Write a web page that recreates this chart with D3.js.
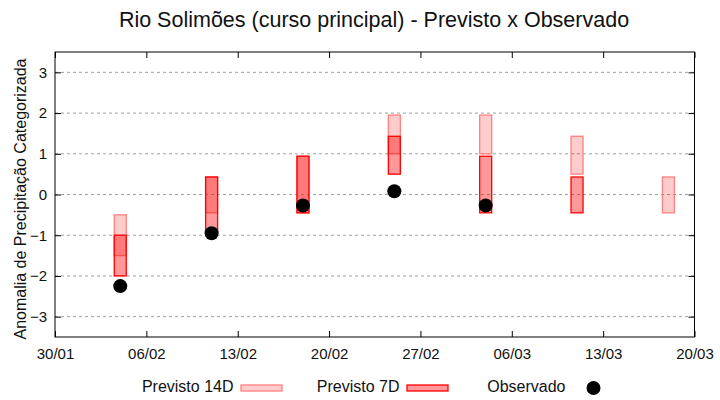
<!DOCTYPE html>
<html>
<head>
<meta charset="utf-8">
<script src="https://cdn.jsdelivr.net/npm/d3@7"></script>
<style>
  body { margin: 0; background: #fff; }
  text { font-family: "Liberation Sans", Arial, sans-serif; fill: #111; }
</style>
</head>
<body>
<div id="chart"></div>
<script>
// weekly forecast categories vs observed anomaly
var dates = ['2023-02-04', '2023-02-11', '2023-02-18', '2023-02-25', '2023-03-04', '2023-03-11', '2023-03-18'];
var prev14Low = [-1.5, -0.45, -0.45, 1.0, 1.0, 0.5, -0.45];
var prev14High = [-0.5, 0.43, 0.94, 1.95, 1.95, 1.43, 0.43];
var prev7Low = [-2.0, -0.95, -0.45, 0.5, -0.45, -0.45, null];
var prev7High = [-1.0, 0.43, 0.94, 1.43, 0.94, 0.43, null];
var observed = [-2.25, -0.95, -0.27, 0.08, -0.27, null, null];

var xTickDates = ['2023-01-30', '2023-02-06', '2023-02-13', '2023-02-20', '2023-02-27', '2023-03-06', '2023-03-13', '2023-03-20'];
var yTicks = [-3, -2, -1, 0, 1, 2, 3];
var seriesNames = ['Previsto 14D', 'Previsto 7D', 'Observado'];

var parse = d3.utcParse('%Y-%m-%d');

var width = 720, height = 400;
var plotLeft = 55, plotRight = 694.5, plotTop = 52, plotBottom = 337;

var svg = d3.select('#chart').append('svg')
  .attr('width', width).attr('height', height);

var x = d3.scaleUtc()
  .domain([parse(xTickDates[0]), parse(xTickDates[xTickDates.length - 1])])
  .range([plotLeft, plotRight]);

var y = d3.scaleLinear()
  .domain([-3.5, 3.5])
  .range([plotBottom, plotTop]);

// grid
svg.append('g').selectAll('line')
  .data(yTicks).enter().append('line')
  .attr('x1', plotLeft).attr('x2', plotRight)
  .attr('y1', function (d) { return y(d); })
  .attr('y2', function (d) { return y(d); })
  .attr('stroke', '#a0a0a0')
  .attr('stroke-width', 1)
  .attr('stroke-dasharray', '3,3');

// axes
svg.append('g')
  .attr('transform', 'translate(0,' + plotBottom + ')')
  .call(d3.axisBottom(x)
    .tickValues(xTickDates.map(parse))
    .tickFormat(d3.utcFormat('%d/%m'))
    .tickSizeInner(-6).tickSizeOuter(0).tickPadding(11));

svg.append('g')
  .attr('transform', 'translate(0,' + plotTop + ')')
  .call(d3.axisTop(x)
    .tickValues(xTickDates.map(parse))
    .tickFormat('')
    .tickSizeInner(-6).tickSizeOuter(0));

svg.append('g')
  .attr('transform', 'translate(' + plotLeft + ',0)')
  .call(d3.axisLeft(y)
    .tickValues(yTicks)
    .tickFormat(d3.format('d'))
    .tickSizeInner(-6).tickSizeOuter(0).tickPadding(8));

svg.append('g')
  .attr('transform', 'translate(' + plotRight + ',0)')
  .call(d3.axisRight(y)
    .tickValues(yTicks)
    .tickFormat('')
    .tickSizeInner(-6).tickSizeOuter(0));

svg.selectAll('.domain').remove();
svg.selectAll('.tick line').attr('stroke', '#000');
svg.selectAll('.tick text')
  .style('font-family', '"Liberation Sans", Arial, sans-serif')
  .style('font-size', '15px')
  .attr('fill', '#111');

svg.append('rect')
  .attr('x', plotLeft).attr('y', plotTop)
  .attr('width', plotRight - plotLeft).attr('height', plotBottom - plotTop)
  .attr('fill', 'none').attr('stroke', '#000').attr('stroke-width', 1);

// bars
var barW = 12;

var bars14 = dates.map(function (d, i) {
  return {date: parse(d), lo: prev14Low[i], hi: prev14High[i]};
});
var bars7 = dates.map(function (d, i) {
  return {date: parse(d), lo: prev7Low[i], hi: prev7High[i]};
}).filter(function (d) { return d.lo != null; });
var obs = dates.map(function (d, i) {
  return {date: parse(d), v: observed[i]};
}).filter(function (d) { return d.v != null; });

svg.append('g').selectAll('rect')
  .data(bars14).enter().append('rect')
  .attr('x', function (d) { return x(d.date) - barW / 2; })
  .attr('y', function (d) { return y(d.hi); })
  .attr('width', barW)
  .attr('height', function (d) { return y(d.lo) - y(d.hi); })
  .attr('fill', 'rgba(255,0,0,0.2)')
  .attr('stroke', '#ff8080')
  .attr('stroke-width', 1.3);

svg.append('g').selectAll('rect')
  .data(bars7).enter().append('rect')
  .attr('x', function (d) { return x(d.date) - barW / 2; })
  .attr('y', function (d) { return y(d.hi); })
  .attr('width', barW)
  .attr('height', function (d) { return y(d.lo) - y(d.hi); })
  .attr('fill', 'rgba(255,0,0,0.4)')
  .attr('stroke', '#ff0000')
  .attr('stroke-width', 1.3);

svg.append('g').selectAll('circle')
  .data(obs).enter().append('circle')
  .attr('cx', function (d) { return x(d.date); })
  .attr('cy', function (d) { return y(d.v); })
  .attr('r', 7)
  .attr('fill', '#000');

// title and labels
svg.append('text')
  .attr('x', 374).attr('y', 27)
  .attr('text-anchor', 'middle')
  .style('font-size', '21.5px')
  .text('Rio Solimões (curso principal) - Previsto x Observado');

svg.append('text')
  .attr('transform', 'translate(26,199) rotate(-90)')
  .attr('text-anchor', 'middle')
  .style('font-size', '16px')
  .text('Anomalia de Precipitação Categorizada');

// legend
var legend = svg.append('g').selectAll('g')
  .data(seriesNames).enter().append('g')
  .attr('transform', function (d, i) { return 'translate(' + (241 + i * 166) + ',388)'; });

legend.append('text')
  .attr('x', -7.5).attr('y', 4)
  .attr('text-anchor', 'end')
  .style('font-size', '16px')
  .text(function (d) { return d; });

legend.filter(function (d, i) { return i < 2; }).append('rect')
  .attr('x', 0).attr('y', -3)
  .attr('width', 41).attr('height', 6)
  .attr('fill', function (d, i) { return i === 0 ? '#ffcccc' : '#ff9999'; })
  .attr('stroke', function (d, i) { return i === 0 ? '#ff8080' : '#ff0000'; })
  .attr('stroke-width', 1.3);

legend.filter(function (d, i) { return i === 2; }).append('circle')
  .attr('cx', 20.5).attr('cy', 0)
  .attr('r', 7)
  .attr('fill', '#000');
</script>
</body>
</html>
